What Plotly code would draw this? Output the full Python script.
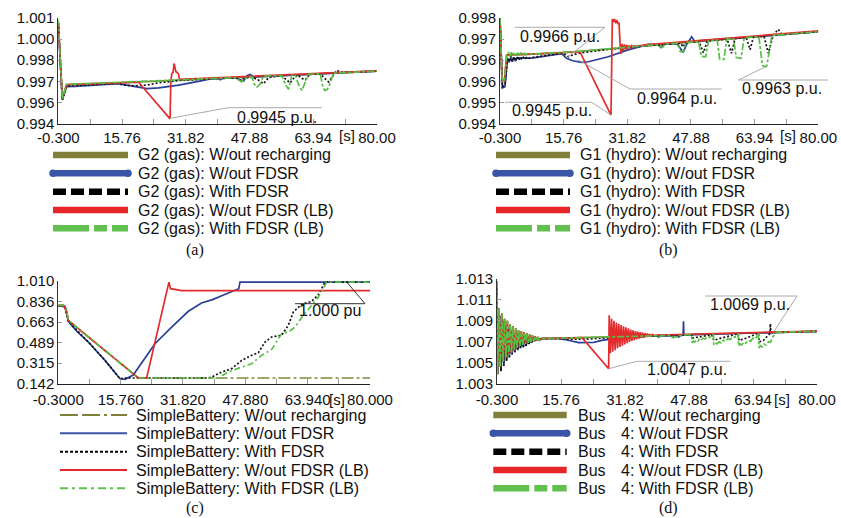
import plotly.graph_objects as go

W, H = 841, 518
SANS = "Liberation Sans, Arial, sans-serif"
SERIF = "Liberation Serif, Times New Roman, serif"

# ---------------- tick labels ----------------
x_ticks = [-0.3, 15.76, 31.82, 47.88, 63.94, 80.0]
x_text_abd = ["-0.300", "15.76", "31.82", "47.88", "63.94", "80.00"]
x_text_c = ["-0.3000", "15.760", "31.820", "47.880", "63.940", "80.000"]
y_range_a = [0.994, 1.001]
y_text_a = ["0.994", "0.996", "0.997", "0.998", "1.000", "1.001"]
y_range_b = [0.994, 0.998]
y_text_b = ["0.994", "0.995", "0.996", "0.996", "0.997", "0.998"]
y_range_c = [0.142, 1.010]
y_text_c = ["0.142", "0.315", "0.489", "0.663", "0.836", "1.010"]
y_range_d = [1.003, 1.013]
y_text_d = ["1.003", "1.005", "1.007", "1.009", "1.011", "1.013"]

cases = ["W/out recharging", "W/out FDSR", "With FDSR", "W/out FDSR (LB)", "With FDSR (LB)"]

# ---------------- panel (a): G2 (gas) ----------------
a_olive_t = [-0.3, 0.71, 1.8, 3.9, 14.83, 80.0]
a_olive_v = [1.00065, 0.99565, 0.99655, 0.99660, 0.99669, 0.99747]
a_blue_t = [-0.3, 0.71, 1.8, 3.9, 14.83, 15.7, 19.0, 22.0, 25.0, 30.0, 35.0, 38.4, 40.06, 40.5, 41.2,
            44.3, 45.5, 46.4, 47.2, 48.0, 49.0, 52.0, 80.0]
a_blue_v = [1.00065, 0.99556, 0.99645, 0.99646, 0.99664, 0.99660, 0.99640, 0.99631, 0.99636, 0.99655,
            0.99680, 0.99697, 0.99700, 0.99690, 0.99700, 0.99704, 0.99690, 0.99682, 0.99715, 0.99725,
            0.99710, 0.99713, 0.99747]
a_black_t = [-0.3, 0.71, 1.8, 14.83, 16.0, 19.0, 22.0, 25.0, 30.0, 44.3, 45.5, 46.5, 48.5, 50.0, 51.4,
             52.7, 56.0, 57.2, 58.1, 59.0, 60.0, 61.0, 62.0, 63.0, 65.7, 66.8, 67.8, 69.0, 69.9, 70.75, 80.0]
a_black_v = [1.00065, 0.99560, 0.99650, 0.99666, 0.99655, 0.99650, 0.99655, 0.99670, 0.99685, 0.99704,
             0.99688, 0.99700, 0.99708, 0.99690, 0.99664, 0.99705, 0.99718, 0.99690, 0.99669, 0.99700,
             0.99723, 0.99700, 0.99690, 0.99726, 0.99730, 0.99700, 0.99676, 0.99720, 0.99753, 0.99740, 0.99747]
a_red_t = [-0.3, 0.71, 1.8, 14.83, 19.88, 27.87, 28.04, 28.29, 28.6, 28.88, 29.1, 29.3, 29.97, 30.22, 80.0]
a_red_v = [1.00065, 0.99565, 0.99658, 0.99671, 0.99675, 0.99431, 0.99673, 0.99731, 0.99740, 0.99798,
           0.99770, 0.99745, 0.99731, 0.99693, 0.99749]
a_green_t = [-0.3, 0.71, 1.8, 14.83, 19.88, 30.0, 44.3, 45.1, 45.9, 46.8, 48.47, 49.1, 49.73, 50.5, 51.41,
             56.03, 56.9, 57.72, 58.2, 58.56, 59.4, 60.2, 61.08, 62.0, 62.76, 65.7, 66.3, 66.8, 67.4, 67.81,
             69.07, 80.0]
a_green_v = [1.0009, 0.99565, 0.99660, 0.99673, 0.99675, 0.99687, 0.99704, 0.99690, 0.99676, 0.99700,
             0.99710, 0.99660, 0.99642, 0.99660, 0.99715, 0.99718, 0.99660, 0.99627, 0.99680, 0.99720,
             0.99724, 0.99660, 0.99620, 0.99680, 0.99727, 0.99730, 0.99650, 0.99620, 0.99625, 0.99640,
             0.99734, 0.99747]

# ---------------- panel (b): G1 (hydro) ----------------
b_olive_t = [-0.3, 0.2, 0.79, 1.4, 7.7, 15.25, 80.0]
b_olive_v = [0.99797, 0.99570, 0.99558, 0.99660, 0.99663, 0.99668, 0.99748]
b_blue_t = [-0.3, 0.3, 0.96, 1.6, 2.0, 2.4, 2.8, 3.2, 3.6, 4.0, 7.7, 15.25, 16.5, 18.0, 20.3, 22.0, 27.0,
            32.0, 37.1, 39.5, 40.3, 40.9, 44.3, 45.9, 46.8, 48.05, 48.8, 80.0]
b_blue_v = [0.99797, 0.99535, 0.99540, 0.99645, 0.99632, 0.99650, 0.99634, 0.99650, 0.99636, 0.99649,
            0.99648, 0.99665, 0.99647, 0.99638, 0.99632, 0.99634, 0.99653, 0.99679, 0.99700, 0.99700,
            0.99688, 0.99700, 0.99704, 0.99670, 0.99700, 0.99729, 0.99712, 0.99748]
b_black_t = [-0.3, 0.3, 0.96, 1.6, 2.0, 2.4, 2.8, 3.2, 3.6, 4.0, 4.4, 4.8, 5.2, 5.6, 6.0, 6.4, 6.8, 7.7,
             15.25, 16.5, 17.0, 18.0, 20.0, 25.0, 30.0, 40.0, 45.3, 45.9, 46.5, 49.9, 51.0, 52.0, 57.0,
             58.1, 59.0, 61.8, 62.8, 63.6, 66.3, 67.4, 68.6, 69.9, 70.8, 80.0]
b_black_v = [0.99797, 0.99539, 0.99545, 0.99650, 0.99635, 0.99655, 0.99636, 0.99654, 0.99638, 0.99653,
             0.99640, 0.99652, 0.99642, 0.99651, 0.99644, 0.99650, 0.99646, 0.99650, 0.99666, 0.99660,
             0.99653, 0.99660, 0.99668, 0.99678, 0.99686, 0.99699, 0.99704, 0.99690, 0.99706, 0.99711,
             0.99668, 0.99713, 0.99720, 0.99666, 0.99722, 0.99726, 0.99680, 0.99727, 0.99731, 0.99666,
             0.99734, 0.99757, 0.99738, 0.99748]
b_red_t = [-0.3, 0.2, 0.79, 1.4, 7.7, 15.25, 19.88, 27.70, 28.04, 28.3, 28.6, 28.9, 29.2, 29.5, 29.72,
           30.0, 30.22, 30.5, 30.8, 31.1, 31.4, 31.7, 32.0, 32.3, 32.6, 32.9, 33.2, 33.5, 34.0, 36.3, 80.0]
b_red_v = [0.99797, 0.99570, 0.99558, 0.99660, 0.99663, 0.99670, 0.99672, 0.99432, 0.99796, 0.99785,
           0.99796, 0.99780, 0.99792, 0.99776, 0.99783, 0.99700, 0.99664, 0.99702, 0.99675, 0.99700,
           0.99680, 0.99698, 0.99684, 0.99696, 0.99687, 0.99695, 0.99689, 0.99695, 0.99693, 0.99698, 0.99751]
b_green_t = [-0.3, 0.2, 0.79, 1.4, 1.8, 2.2, 2.6, 3.0, 3.4, 3.8, 4.2, 4.6, 5.0, 5.4, 5.8, 6.2, 6.6, 7.0,
             7.7, 15.25, 19.9, 30.0, 39.9, 40.4, 40.8, 41.2, 44.5, 45.2, 46.0, 46.6, 49.8, 50.5, 51.6,
             52.3, 54.5, 55.1, 56.2, 56.9, 58.6, 59.3, 60.5, 61.3, 65.0, 65.9, 66.7, 67.0, 68.3, 80.0]
b_green_v = [0.99797, 0.99570, 0.99558, 0.99660, 0.99670, 0.99655, 0.99670, 0.99656, 0.99669, 0.99657,
             0.99668, 0.99658, 0.99667, 0.99659, 0.99666, 0.99660, 0.99665, 0.99661, 0.99663, 0.99670,
             0.99674, 0.99687, 0.99699, 0.99688, 0.99690, 0.99700, 0.99705, 0.99672, 0.99675, 0.99707,
             0.99711, 0.99655, 0.99653, 0.99714, 0.99717, 0.99645, 0.99643, 0.99720, 0.99722, 0.99650,
             0.99647, 0.99725, 0.99730, 0.99620, 0.99615, 0.99618, 0.99734, 0.99748]

# ---------------- panel (c): SimpleBattery ----------------
c_olive_t = [-0.3, 1.0, 1.8, 2.28, 7.44, 11.73, 16.02, 20.32, 80.0]
c_olive_v = [0.804, 0.804, 0.760, 0.677, 0.537, 0.424, 0.308, 0.190, 0.190]
c_blue_t = [-0.3, 1.43, 2.28, 4.5, 7.44, 11.73, 15.6, 16.9, 19.0, 21.5, 24.6, 28.9, 33.2, 36.6, 39.6,
            41.8, 44.8, 46.2, 46.5, 80.0]
c_blue_v = [0.800, 0.795, 0.669, 0.585, 0.494, 0.339, 0.184, 0.179, 0.215, 0.330, 0.480, 0.621, 0.754,
            0.824, 0.855, 0.885, 0.930, 0.945, 1.000, 1.000]
c_black_t = [-0.3, 1.43, 2.28, 7.44, 11.73, 15.6, 17.0, 38.35, 39.21, 41.79, 44.36, 46.94, 49.51, 51.23,
             52.95, 54.67, 57.24, 58.96, 60.25, 62.39, 64.97, 66.69, 68.41, 80.0]
c_black_v = [0.800, 0.795, 0.669, 0.494, 0.339, 0.184, 0.190, 0.190, 0.198, 0.241, 0.269, 0.339, 0.382,
             0.404, 0.494, 0.537, 0.551, 0.635, 0.748, 0.813, 0.838, 0.894, 1.000, 1.000]
c_red_t = [-0.3, 1.0, 1.8, 2.28, 7.44, 11.73, 16.02, 20.32, 22.46, 24.61, 26.33, 27.87, 28.2, 28.6,
           29.76, 31.48, 80.0]
c_red_v = [0.804, 0.804, 0.760, 0.677, 0.537, 0.424, 0.308, 0.190, 0.190, 0.497, 0.742, 0.959, 1.000,
           0.945, 0.940, 0.928, 0.928]
c_green_t = [-0.3, 1.0, 1.8, 2.28, 7.44, 11.73, 16.02, 20.32, 40.93, 43.50, 46.94, 49.51, 52.09, 54.67,
             57.24, 58.96, 60.67, 62.82, 64.97, 66.69, 68.84, 80.0]
c_green_v = [0.804, 0.804, 0.760, 0.677, 0.537, 0.424, 0.308, 0.190, 0.190, 0.241, 0.283, 0.311, 0.382,
             0.432, 0.565, 0.579, 0.621, 0.720, 0.804, 0.875, 1.000, 1.000]

# ---------------- panel (d): Bus 4 ----------------
d_start_g_t = [-0.3, -0.15, 0.2, 0.55, 0.9, 1.25, 1.6, 1.95, 2.3, 2.65, 3.0, 3.35, 3.7, 4.05, 4.4, 4.75,
               5.1, 5.45, 5.8, 6.15, 6.5, 6.85, 7.2, 7.55, 7.9, 8.25, 8.6, 8.95, 9.3, 9.65, 10.0, 10.35, 11.0]
d_start_g_v = [1.0128, 1.0039, 1.0102, 1.0046, 1.0097, 1.0051, 1.0092, 1.0055, 1.0090, 1.0057, 1.0087,
               1.0060, 1.0085, 1.0062, 1.0083, 1.0064, 1.0081, 1.0066, 1.0080, 1.0067, 1.0079, 1.0068,
               1.0078, 1.0069, 1.0077, 1.0070, 1.0076, 1.00705, 1.0075, 1.0071, 1.00745, 1.00715, 1.0073]
d_start_k_t = [-0.3, -0.1, 0.35, 0.7, 1.05, 1.4, 1.75, 2.1, 2.45, 2.8, 3.15, 3.5, 3.85, 4.2, 4.55, 4.9,
               5.25, 5.6, 5.95, 6.3, 6.65, 7.0, 7.35, 7.7, 8.05, 8.4, 8.75, 9.1, 10.0, 11.0]
d_start_k_v = [1.0125, 1.0040, 1.0095, 1.0042, 1.0090, 1.0047, 1.0086, 1.0052, 1.0083, 1.0055, 1.0080,
               1.0058, 1.0078, 1.0060, 1.0077, 1.0062, 1.0076, 1.0064, 1.0075, 1.0065, 1.0074, 1.0066,
               1.00735, 1.0068, 1.0073, 1.00695, 1.00728, 1.0071, 1.00725, 1.0073]
d_olive_tail_t = [80.0]
d_olive_tail_v = [1.0080]
d_blue_tail_t = [15.2, 17.0, 20.2, 24.0, 26.0, 30.0, 38.6, 40.0, 40.3, 40.8, 45.0, 45.3, 45.8, 46.4, 46.5,
                 46.6, 80.0]
d_blue_tail_v = [1.00731, 1.00720, 1.00692, 1.00695, 1.00714, 1.00735, 1.00757, 1.00755, 1.00745, 1.00757,
                 1.00760, 1.00745, 1.00762, 1.00764, 1.00896, 1.00766, 1.00800]
d_black_tail_t = [15.2, 18.0, 22.0, 26.0, 40.0, 48.5, 48.7, 53.6, 54.1, 55.0, 60.2, 60.4, 61.5, 65.3, 65.5,
                  66.5, 68.2, 68.3, 68.4, 80.0]
d_black_tail_v = [1.00732, 1.00725, 1.00725, 1.00735, 1.00758, 1.00767, 1.00735, 1.00768, 1.00714, 1.00725,
                  1.00778, 1.00714, 1.00725, 1.00783, 1.00698, 1.00712, 1.00780, 1.00873, 1.00790, 1.00800]
d_red_tail_t = [19.4, 21.03, 27.72, 27.85, 28.15, 28.45, 28.75, 29.05, 29.35, 29.65, 29.95, 30.25, 30.55,
                30.85, 31.15, 31.45, 31.75, 32.05, 32.35, 32.65, 32.95, 33.25, 33.55, 33.85, 34.15, 34.45,
                34.75, 35.05, 35.35, 35.65, 35.95, 36.25, 36.55, 36.85, 37.15, 37.45, 37.75, 38.05, 38.35,
                38.65, 39.0, 40.0, 80.0]
d_red_tail_v = [1.00738, 1.00740, 1.00443, 1.00953, 1.00590, 1.00920, 1.00605, 1.00900, 1.00620, 1.00885,
                1.00638, 1.00872, 1.00650, 1.00860, 1.00662, 1.00848, 1.00675, 1.00838, 1.00688, 1.00828,
                1.00698, 1.00818, 1.00708, 1.00810, 1.00716, 1.00803, 1.00724, 1.00797, 1.00730, 1.00792,
                1.00736, 1.00787, 1.00741, 1.00782, 1.00746, 1.00778, 1.00750, 1.00774, 1.00754, 1.00770,
                1.00760, 1.00765, 1.00803]
d_green_tail_t = [19.4, 38.6, 40.0, 40.3, 40.8, 43.4, 43.6, 44.0, 44.5, 45.0, 45.5, 46.5, 48.5, 48.65, 49.0,
                  49.3, 49.7, 50.1, 50.5, 50.9, 51.4, 51.9, 52.5, 53.0, 53.6, 54.0, 54.1, 54.5, 54.9, 55.4,
                  55.9, 56.5, 57.0, 57.6, 58.2, 58.9, 59.5, 60.2, 60.35, 60.7, 61.1, 61.6, 62.1, 62.7, 63.3,
                  63.9, 64.6, 65.3, 65.45, 65.8, 66.2, 66.7, 67.2, 67.8, 68.3, 68.8, 69.5, 70.0, 80.0]
d_green_tail_v = [1.00738, 1.00756, 1.00758, 1.00745, 1.00757, 1.00762, 1.00745, 1.00738, 1.00750, 1.00745,
                  1.00758, 1.00765, 1.00768, 1.00692, 1.00706, 1.00697, 1.00715, 1.00706, 1.00725, 1.00716,
                  1.00735, 1.00727, 1.00748, 1.00742, 1.00768, 1.00770, 1.00673, 1.00690, 1.00680, 1.00700,
                  1.00690, 1.00715, 1.00706, 1.00730, 1.00722, 1.00748, 1.00745, 1.00778, 1.00660, 1.00680,
                  1.00670, 1.00695, 1.00686, 1.00712, 1.00705, 1.00735, 1.00730, 1.00782, 1.00641, 1.00662,
                  1.00652, 1.00678, 1.00670, 1.00700, 1.00695, 1.00740, 1.00780, 1.00792, 1.00800]

# ---------------- styling ----------------
PLOT_COL = ["#85853c", "#2a3f98", "#111111", "#e32b2b", "#55c043"]
LEG_COL = ["#80803a", "#3a55a8", "#000000", "#e8262a", "#62c04f"]


def PX(x):
    return x / W


def PY(y):
    return 1 - y / H


fig = go.Figure()

panels = {
    "a": dict(ax="", data=[(a_olive_t, a_olive_v), (a_blue_t, a_blue_v), (a_black_t, a_black_v),
                           (a_red_t, a_red_v), (a_green_t, a_green_v)]),
    "b": dict(ax="2", data=[(b_olive_t, b_olive_v), (b_blue_t, b_blue_v), (b_black_t, b_black_v),
                            (b_red_t, b_red_v), (b_green_t, b_green_v)]),
    "c": dict(ax="3", data=[(c_olive_t, c_olive_v), (c_blue_t, c_blue_v), (c_black_t, c_black_v),
                            (c_red_t, c_red_v), (c_green_t, c_green_v)]),
    "d": dict(ax="4", data=[(d_start_g_t + d_olive_tail_t, d_start_g_v + d_olive_tail_v),
                            (d_start_k_t + d_blue_tail_t, d_start_k_v + d_blue_tail_v),
                            (d_start_k_t + d_black_tail_t, d_start_k_v + d_black_tail_v),
                            (d_start_g_t + d_red_tail_t, d_start_g_v + d_red_tail_v),
                            (d_start_g_t + d_green_tail_t, d_start_g_v + d_green_tail_v)]),
}

dash_abd = ["solid", "solid", "2px,2px", "solid", "7px,2px,3px,2px"]
dash_c = ["12px,3px,3px,3px", "solid", "2px,2px", "solid", "6px,3px,2px,3px"]

for key, p in panels.items():
    dashes = dash_c if key == "c" else dash_abd
    for i, (t, v) in enumerate(p["data"]):
        fig.add_trace(go.Scatter(
            x=t, y=v, mode="lines",
            line=dict(color=PLOT_COL[i], width=1.7, dash=dashes[i]),
            xaxis="x" + p["ax"], yaxis="y" + p["ax"],
            showlegend=False, hoverinfo="skip"))

minor_x = [(x_ticks[i] + x_ticks[i + 1]) / 2 for i in range(len(x_ticks) - 1)]


def xaxis(dom, anchor, text, standoff=0):
    return dict(domain=dom, anchor=anchor, range=[-0.3, 80], tickmode="array", tickvals=x_ticks,
                ticktext=text, ticks="inside", ticklen=5, tickcolor="#999", showline=True,
                linecolor="#222", linewidth=1, showgrid=False, zeroline=False, automargin=False,
                ticklabelstandoff=standoff,
                tickfont=dict(family=SANS, size=15, color="#111"),
                minor=dict(tickvals=minor_x, ticks="inside", ticklen=5, tickcolor="#999"))


def yaxis(dom, anchor, rng, text):
    vals = [rng[0] + k * (rng[1] - rng[0]) / 5 for k in range(6)]
    return dict(domain=dom, anchor=anchor, range=rng, tickmode="array", tickvals=vals, ticktext=text,
                ticks="inside", ticklen=4, tickcolor="#999", showline=True, linecolor="#333",
                linewidth=1, showgrid=False, zeroline=False, automargin=False,
                tickfont=dict(family=SANS, size=15, color="#111"))


fig.update_layout(
    width=W, height=H, margin=dict(l=0, r=0, t=0, b=0, autoexpand=False),
    paper_bgcolor="white", plot_bgcolor="white", showlegend=False,
    xaxis=xaxis([PX(58.3), PX(377)], "y", x_text_abd),
    yaxis=yaxis([PY(123.5), PY(18)], "x", y_range_a, y_text_a),
    xaxis2=xaxis([PX(500), PX(818.3)], "y2", x_text_abd),
    yaxis2=yaxis([PY(123.5), PY(18)], "x2", y_range_b, y_text_b),
    xaxis3=xaxis([PX(58.3), PX(370)], "y3", x_text_c, 2),
    yaxis3=yaxis([PY(383.7), PY(281)], "x3", y_range_c, y_text_c),
    xaxis4=xaxis([PX(497), PX(817)], "y4", x_text_abd, 2),
    yaxis4=yaxis([PY(383.7), PY(279)], "x4", y_range_d, y_text_d),
)

shapes = []
annos = []


def text(x, y, s, size=16, anchor="center", family=SANS):
    annos.append(dict(x=PX(x), y=PY(y), xref="paper", yref="paper", text=s, showarrow=False,
                      xanchor=anchor, yanchor="middle", borderpad=0,
                      font=dict(family=family, size=size, color="#111")))


def seg(x0, y0, x1, y1, color="#aaaaaa", width=1, dash="solid"):
    shapes.append(dict(type="line", xref="paper", yref="paper", x0=PX(x0), y0=PY(y0), x1=PX(x1),
                       y1=PY(y1), line=dict(color=color, width=width, dash=dash)))


# "[s]" unit labels
text(347, 136, "[s]", 15)
text(788, 136, "[s]", 15)
text(337, 399, "[s]", 15)
text(782, 399, "[s]", 15)

# value call-outs
seg(170, 118.3, 228.3, 107.7); seg(228.3, 107.7, 321.7, 107.7)
text(276.7, 117, "0.9945 p.u.")
seg(568.3, 56.7, 605, 27.3); seg(515, 27.3, 605, 27.3)
text(560, 37, "0.9966 p.u.")
seg(578.3, 60, 630, 89); seg(630, 89, 721.7, 89)
text(676.7, 98.5, "0.9964 p.u.")
seg(611, 115, 591.7, 102.3); seg(505, 102.3, 591.7, 102.3)
text(551.7, 110.5, "0.9945 p.u.")
seg(765.7, 66.7, 738.3, 80); seg(738.3, 80, 828, 80)
text(782, 88.5, "0.9963 p.u.")
seg(346.7, 282, 365, 303.7, color="#333"); seg(295, 303.7, 365, 303.7, color="#333")
text(330, 310.5, "1.000 pu")
seg(773.7, 332, 797, 296); seg(705, 296, 797, 296)
text(750.3, 304, "1.0069 p.u.")
seg(608.7, 368.7, 637, 361.3); seg(637, 361.3, 730.3, 361.3)
text(687, 369.5, "1.0047 p.u.")

# legends
thick_dash = ["solid", "solid", "13px,5px", "solid", "36px,5px,13px,5px"]
thin_dash = ["18px,4px,18px,4px,3px,4px", "solid", "3px,2px", "solid", "8px,4px,3px,4px"]
rows_top = [155, 173.3, 191.7, 210, 228.3]
rows_bot = [415, 433.3, 451.7, 470, 488.3]


def legend(x0, x1, tx, rows, prefix, dashes, width, round_blue=True, bus=False):
    for i, y in enumerate(rows):
        seg(x0, y, x1, y, color=LEG_COL[i], width=width, dash=dashes[i])
        if round_blue and i == 1:
            r = width / 2 + 0.5
            for cx in (x0, x1):
                shapes.append(dict(type="circle", xref="paper", yref="paper",
                                   x0=PX(cx - r), x1=PX(cx + r), y0=PY(y + r), y1=PY(y - r),
                                   fillcolor=LEG_COL[i], line=dict(width=0)))
        if bus:
            text(tx, y, "Bus", 16, "left")
            text(620, y, "4: " + cases[i], 16, "left")
        else:
            text(tx, y, prefix + cases[i], 16, "left")


legend(53, 128, 137, rows_top, "G2 (gas): ", thick_dash, 6.5)
legend(496, 570, 579, rows_top, "G1 (hydro): ", thick_dash, 6.5)
legend(60, 127, 135, rows_bot, "SimpleBattery: ", thin_dash, 2, round_blue=False)
legend(493.3, 566.7, 577, rows_bot, "", thick_dash, 6.5, bus=True)

text(194.5, 250, "(a)", 16, family=SERIF)
text(668.5, 250, "(b)", 16, family=SERIF)
text(194.5, 508, "(c)", 16, family=SERIF)
text(668, 508, "(d)", 16, family=SERIF)

fig.update_layout(shapes=shapes, annotations=annos)
fig.write_html("out.html")
